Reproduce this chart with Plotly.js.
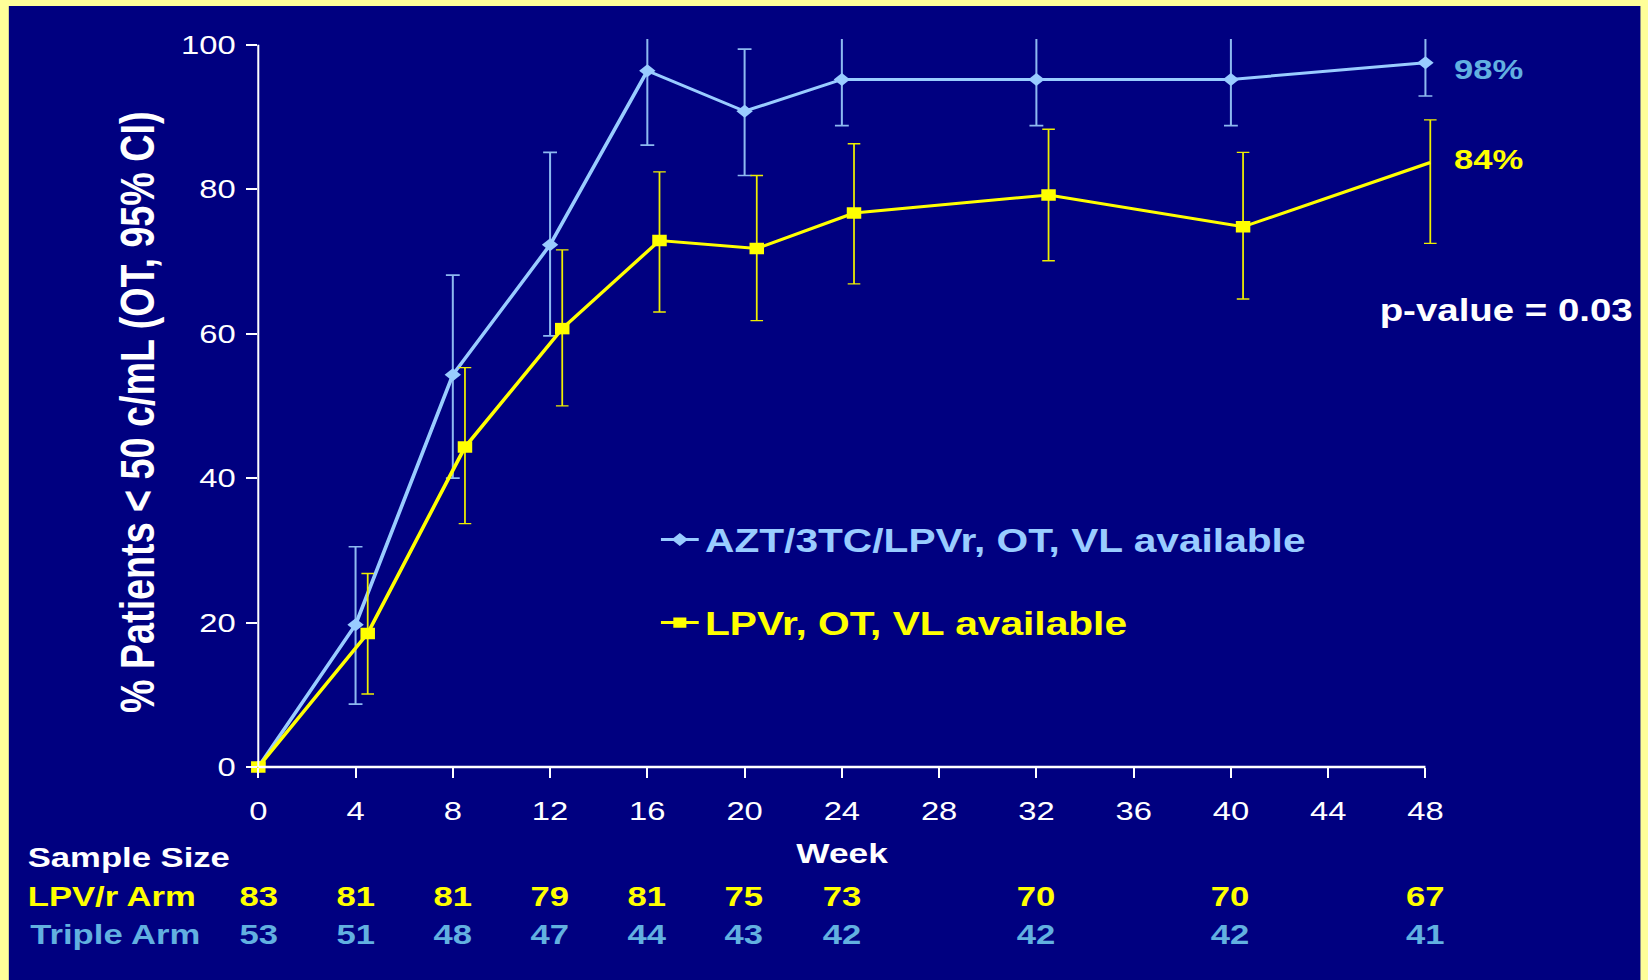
<!DOCTYPE html>
<html>
<head>
<meta charset="utf-8">
<script src="https://cdn.plot.ly/plotly-3.0.1.min.js"></script>
<style>
  html, body { margin: 0; padding: 0; background: #FFFF99; overflow: hidden; }
  #wrap { position: absolute; left: 0; top: 0; width: 1308px; height: 980px; background: #FFFF99; transform-origin: 0 0; }
  #chart { position: absolute; left: 7px; top: 6px; width: 1295px; height: 974px; }
</style>
</head>
<body>
<div id="wrap"><div id="chart"></div></div>
<script>
// ---------------- data ----------------
const weeks      = [0, 4, 8, 12, 16, 20, 24, 32, 40, 48];
// AZT/3TC/LPVr (triple arm)
const tripleX    = [0, 4, 8, 12, 16, 20, 24, 32, 40, 48];
const tripleVal  = [0, 19.7, 54.3, 72.3, 96.4, 90.8, 95.2, 95.2, 95.2, 97.5];
const tripleLow  = [null, 8.7, 40.0, 59.7, 86.1, 81.9, 88.8, 88.8, 88.8, 92.9];
const tripleHigh = [null, 30.5, 68.1, 85.1, 106.7, 99.4, 101.6, 101.6, 101.6, 102.1];
// LPVr arm (plotted slightly to the right of each week)
const lpvX       = [0, 4.5, 8.5, 12.5, 16.5, 20.5, 24.5, 32.5, 40.5, 48.2];
const lpvVal     = [0, 18.5, 44.3, 60.7, 72.9, 71.8, 76.7, 79.2, 74.8, 83.7];
const lpvLow     = [null, 10.1, 33.7, 50.0, 63.0, 61.8, 66.9, 70.1, 64.8, 72.5];
const lpvHigh    = [null, 26.8, 55.3, 71.6, 82.4, 81.9, 86.3, 88.3, 85.1, 89.6];
// sample sizes
const sampleWeeks = [0, 4, 8, 12, 16, 20, 24, 32, 40, 48];
const lpvN        = [83, 81, 81, 79, 81, 75, 73, 70, 70, 67];
const tripleN     = [53, 51, 48, 47, 44, 43, 42, 42, 42, 41];
// axes
const xTickVals = [0, 4, 8, 12, 16, 20, 24, 28, 32, 36, 40, 44, 48];
const yTickVals = [0, 20, 40, 60, 80, 100];
const tripleName = 'AZT/3TC/LPVr, OT, VL available';
const lpvName    = 'LPVr, OT, VL available';
const yTitle     = '% Patients < 50 c/mL (OT, 95% CI)';
const pText      = 'p-value = 0.03';

// ---------------- geometry ----------------
const S = 1648 / 1308;           // horizontal stretch of the original slide
const OFFX = 7, OFFY = 6, DIVW = 1295, DIVH = 974;
const plotLeftFull = 258.5, weekPxFull = 24.3, plotTopFull = 39.2, plotBottomFull = 766.7;
const xMax = 48.5, yMax = 100.8;
const mL = plotLeftFull / S - OFFX;
const wPlot = xMax * weekPxFull / S;
const mR = DIVW - mL - wPlot;
const mT = plotTopFull - OFFY;
const hPlot = plotBottomFull - plotTopFull;
const mB = DIVH - mT - hPlot;
const paperX = px => (px - plotLeftFull) / S / wPlot;
const paperY = py => (plotBottomFull - py) / hPlot;

// ---------------- colours / fonts ----------------
const NAVY = '#000080', WHITE = '#FFFFFF', YEL = '#FFFF00';
const BLUE_LINE = '#99CCFF', BLUE_ERR = '#8DB9F0', BLUE_TXT = '#62B0E0', YEL_ERR = '#EEEE00';
const SANS = '"Liberation Sans", Arial, sans-serif';
const TBL = 27.5;

const errPlus  = (hi, v) => hi.map((h, i) => h == null ? NaN : h - v[i]);
const errMinus = (lo, v) => lo.map((l, i) => l == null ? NaN : v[i] - l);

const traces = [
  {
    name: tripleName, legendgroup: 'a',
    x: tripleX, y: tripleVal, type: 'scatter', mode: 'lines+markers',
    line: { color: BLUE_LINE, width: 3 },
    marker: { symbol: 'diamond', size: 10, color: BLUE_LINE, opacity: 1, line: { width: 0 } },
    error_y: { type: 'data', symmetric: false,
      array: errPlus(tripleHigh, tripleVal), arrayminus: errMinus(tripleLow, tripleVal),
      color: BLUE_ERR, thickness: 1.6, width: 5.5 },
    hoverinfo: 'x+y'
  },
  {
    name: lpvName, legendgroup: 'b',
    x: lpvX, y: lpvVal, type: 'scatter', mode: 'lines+markers',
    line: { color: YEL, width: 3 },
    marker: { symbol: 'square', color: YEL, opacity: 1, line: { width: 0 },
      size: lpvVal.map((v, i) => i === lpvVal.length - 1 ? 0 : 11.5) },
    error_y: { type: 'data', symmetric: false,
      array: errPlus(lpvHigh, lpvVal), arrayminus: errMinus(lpvLow, lpvVal),
      color: YEL_ERR, thickness: 1.4, width: 5 },
    hoverinfo: 'x+y'
  },
  // origin markers drawn unclipped
  { x: [tripleX[0]], y: [tripleVal[0]], type: 'scatter', mode: 'markers', cliponaxis: false, showlegend: false,
    marker: { symbol: 'diamond', size: 10, color: BLUE_LINE, line: { width: 0 } }, hoverinfo: 'skip' },
  { x: [lpvX[0]], y: [lpvVal[0]], type: 'scatter', mode: 'markers', cliponaxis: false, showlegend: false,
    marker: { symbol: 'square', size: 11.5, color: YEL, line: { width: 0 } }, hoverinfo: 'skip' }
];

const ann = [];
ann.push({ xref: 'paper', yref: 'paper', x: paperX(137.5), y: paperY(412), text: yTitle, textangle: -90,
  showarrow: false, xanchor: 'center', yanchor: 'middle',
  font: { family: SANS, size: 37.7, color: WHITE, weight: 'bold' } });
ann.push({ xref: 'x', yref: 'paper', x: 24, y: paperY(853.5), text: 'Week', showarrow: false,
  xanchor: 'center', yanchor: 'middle', font: { family: SANS, size: 28, color: WHITE, weight: 'bold' } });
ann.push({ xref: 'paper', yref: 'paper', x: paperX(26), y: paperY(857), text: 'Sample Size', showarrow: false,
  xanchor: 'left', yanchor: 'middle', font: { family: SANS, size: TBL, color: WHITE, weight: 'bold' } });
ann.push({ xref: 'paper', yref: 'paper', x: paperX(26), y: paperY(896.5), text: 'LPV/r Arm', showarrow: false,
  xanchor: 'left', yanchor: 'middle', font: { family: SANS, size: TBL, color: YEL, weight: 'bold' } });
ann.push({ xref: 'paper', yref: 'paper', x: paperX(28), y: paperY(934.5), text: 'Triple Arm', showarrow: false,
  xanchor: 'left', yanchor: 'middle', font: { family: SANS, size: TBL, color: BLUE_TXT, weight: 'bold' } });
sampleWeeks.forEach((w, i) => {
  ann.push({ xref: 'x', yref: 'paper', x: w, y: paperY(896.5), text: String(lpvN[i]), showarrow: false,
    xanchor: 'center', yanchor: 'middle', font: { family: SANS, size: TBL, color: YEL, weight: 'bold' } });
  ann.push({ xref: 'x', yref: 'paper', x: w, y: paperY(934.5), text: String(tripleN[i]), showarrow: false,
    xanchor: 'center', yanchor: 'middle', font: { family: SANS, size: TBL, color: BLUE_TXT, weight: 'bold' } });
});
ann.push({ xref: 'paper', yref: 'paper', x: paperX(1451), y: paperY(70),
  text: Math.round(tripleVal[tripleVal.length - 1]) + '%', showarrow: false, xanchor: 'left', yanchor: 'middle',
  font: { family: SANS, size: 27.5, color: BLUE_TXT, weight: 'bold' } });
ann.push({ xref: 'paper', yref: 'paper', x: paperX(1451), y: paperY(159.5),
  text: Math.round(lpvVal[lpvVal.length - 1]) + '%', showarrow: false, xanchor: 'left', yanchor: 'middle',
  font: { family: SANS, size: 27.5, color: YEL, weight: 'bold' } });
ann.push({ xref: 'paper', yref: 'paper', x: paperX(1377), y: paperY(311), text: pText, showarrow: false,
  xanchor: 'left', yanchor: 'middle', font: { family: SANS, size: 30.5, color: WHITE, weight: 'bold' } });

const shapes = [
  { type: 'line', xref: 'paper', yref: 'y', x0: 0, x1: 0, y0: 0, y1: yTickVals[yTickVals.length - 1],
    line: { color: WHITE, width: 1.6 } },
  { type: 'line', xref: 'x', yref: 'paper', x0: xTickVals[0], x1: xTickVals[xTickVals.length - 1], y0: 0, y1: 0,
    line: { color: WHITE, width: 2.5 } }
];

const layout = {
  width: DIVW, height: DIVH, autosize: false,
  margin: { l: mL, r: mR, t: mT, b: mB, pad: 0 },
  paper_bgcolor: NAVY, plot_bgcolor: NAVY,
  showlegend: true,
  legend: { x: paperX(705) - 40 / wPlot, y: paperY(512), xanchor: 'left', yanchor: 'top',
    bgcolor: 'rgba(0,0,0,0)', borderwidth: 0, traceorder: 'grouped', tracegroupgap: 38,
    font: { family: SANS, size: 32.3, color: WHITE, weight: 'bold' } },
  xaxis: { range: [0, xMax], tickmode: 'array', tickvals: xTickVals, ticktext: xTickVals.map(String),
    ticks: 'outside', ticklen: 10, tickwidth: 1.6, tickcolor: WHITE, showline: false, showgrid: false, zeroline: false,
    ticklabelstandoff: 11, tickfont: { family: SANS, size: 26, color: WHITE } },
  yaxis: { range: [0, yMax], tickmode: 'array', tickvals: yTickVals, ticktext: yTickVals.map(String),
    ticks: 'outside', ticklen: 8.7, tickwidth: 2, tickcolor: WHITE, showline: false, showgrid: false, zeroline: false,
    ticklabelstandoff: 3, tickfont: { family: SANS, size: 26, color: WHITE } },
  annotations: ann,
  shapes: shapes
};

Plotly.newPlot('chart', traces, layout, { staticPlot: true, displayModeBar: false }).then(gd => {
  const cols = [BLUE_LINE, YEL];
  gd.querySelectorAll('.legend .legendtext').forEach((t, i) => { t.style.fill = cols[i] || WHITE; });
  document.getElementById('wrap').style.transform = 'scaleX(' + S + ')';
});
</script>
</body>
</html>
